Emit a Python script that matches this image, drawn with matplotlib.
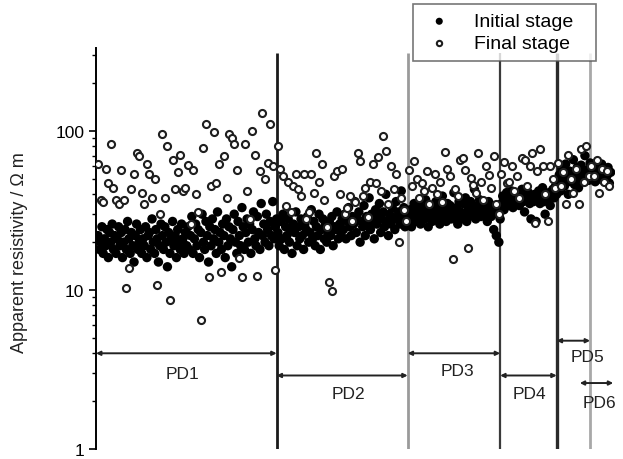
import matplotlib.pyplot as plt
import numpy as np

plt.rcParams['font.family'] = ['Liberation Sans', 'DejaVu Sans']

# apparent resistivity (ohm m); initial stage read twice per measurement point
initial_stage = [
    # PD1
    22, 18, 20, 25, 17, 21, 19, 24, 16, 23, 20, 26, 18, 22, 17, 21, 25, 19, 23, 16,
    20, 24, 18, 27, 21, 17, 23, 19, 15, 22, 26, 18, 20, 24, 17, 21, 19, 25, 16, 22,
    23, 18, 28, 20, 17, 24, 21, 15, 19, 26, 22, 18, 25, 20, 14, 23, 17, 21, 27, 19,
    22, 16, 24, 20, 18, 26, 21, 17, 23, 19,
    25, 18, 22, 29, 17, 21, 26, 19, 24, 16, 23, 30, 20, 18, 27, 22, 15, 25, 19, 28,
    21, 24, 17, 31, 20, 23, 18, 26, 22, 16, 28, 19, 25, 21, 14, 24, 30, 20, 17, 27,
    22, 19, 33, 25, 18, 23, 28, 20, 26, 17, 24, 31, 21, 19, 29, 23, 18, 35, 22, 26,
    20, 30, 24, 19, 27, 22, 36, 21, 25, 28,
    # PD2
    23, 19, 27, 21, 30, 18, 25, 22, 28, 20, 24, 17, 26, 23, 31, 19, 25, 21, 28, 22,
    18, 26, 24, 29, 20, 23, 32, 21, 27, 19, 25, 22, 30, 18, 24, 28, 21, 26, 20, 23,
    27, 22, 29, 19, 25, 24, 31, 21, 26, 23, 28,
    24, 30, 21, 27, 33, 25, 22, 29, 26, 36, 23, 28, 31, 20, 27, 25, 34, 22, 29, 26,
    38, 24, 30, 27, 21, 32, 26, 29, 35, 23, 28, 31, 25, 40, 27, 22, 30, 26, 33, 28,
    24, 36, 29, 31, 26, 42, 28, 33, 25, 30, 27,
    # PD3
    28, 32, 25, 30, 35, 27, 31, 29, 34, 26, 33, 30, 28, 37, 31, 25, 29, 34, 27, 32,
    30, 36, 28, 33, 26, 31, 39, 29, 32, 27, 35, 30, 34, 28, 31, 41, 29, 33, 26, 36,
    31, 28, 35, 30, 38, 27, 33, 29, 36, 32, 30, 43, 28, 34, 31, 37, 29, 33, 30, 35,
    32, 27, 36, 31, 29, 34, 24, 33, 22, 30, 20, 28,
    # PD4
    35, 39, 32, 37, 41, 34, 38, 36, 42, 33, 39, 35, 37, 40, 34, 38, 43, 36, 31, 39,
    37, 41, 35, 28, 38, 36, 40, 27, 39, 42, 35, 38, 44, 36, 30, 40, 37, 41, 34, 39,
    43, 38, 45, 40,
    # PD5
    47, 53, 42, 58, 49, 45, 62, 51, 40, 56, 48, 54, 66, 46, 52, 59, 44, 50, 61, 55,
    48, 70, 53, 57, 49, 63,
    # PD6
    55, 51, 58, 48, 54, 60, 50, 56, 62, 49, 53, 57, 52, 59, 47, 55,
]

final_stage = [
    # PD1
    62, 37, 36, 58, 47, 83, 44, 37, 35, 57, 37, 10.3, 13.7,
    43, 54, 73, 70, 41, 35, 62, 54, 38, 50, 10.8, 30,
    96, 38, 80, 8.7, 66, 43, 55, 71, 42, 44, 61, 26,
    57, 40, 31, 6.5, 78, 111, 12, 45, 98, 47, 62,
    13, 70, 38, 96, 90, 83, 57, 16, 12, 83, 42, 28,
    100, 71, 12.2, 56, 130, 50, 63, 111, 60, 13.4,
    # PD2
    80, 58, 52, 34, 48, 31, 45, 54, 43,
    39, 54, 28, 31, 54, 41, 73, 48, 62,
    37, 25, 11.3, 9.8, 52, 56, 40, 58, 30,
    33, 39, 27, 36, 73, 65, 39, 44, 29,
    48, 62, 47, 69, 42, 93, 75, 35, 60,
    43, 54, 20, 38, 32, 27,
    # PD3
    57, 45, 65, 50, 38, 47, 42, 56, 35, 44,
    54, 40, 48, 36, 74, 58, 52, 15.6, 43, 39,
    66, 68, 57, 18.4, 51, 46, 41, 73, 48, 37,
    60, 53, 44, 70, 35, 30,
    # PD4
    54, 64, 47, 48, 60, 42, 52, 38, 68, 66, 45,
    60, 73, 26.5, 56, 77, 60, 40, 27, 60, 50, 44,
    # PD5
    63, 45, 55, 35, 71, 50, 41, 58, 35, 77, 48, 80, 52,
    # PD6
    60, 52, 66, 41, 58, 48, 56, 45,
]

zones = ['PD1', 'PD2', 'PD3', 'PD4', 'PD5', 'PD6']
zone_edges = [69.5, 120.5, 156.5, 178.5, 191.5]
edge_colors = ['#1a1a1a', '#9a9a9a', '#3a3a3a', '#2a2a2a', '#a8a8a8']
edge_widths = [2.0, 2.0, 1.6, 2.4, 2.0]

n_points = len(final_stage)
x_initial = np.arange(len(initial_stage)) * n_points / len(initial_stage)
x_final = np.arange(n_points)

fig = plt.figure(figsize=(6.23, 4.6), dpi=100)
ax = fig.add_axes([96 / 623, 1 - 450 / 460, 519 / 623, 401 / 460])

ax.scatter(x_initial, initial_stage, s=46, color='black',
           edgecolors='none', zorder=3, label='Initial stage')
ax.scatter(x_final, final_stage, s=26, facecolors='white',
           edgecolors='#1e1e1e', linewidths=1.5, zorder=4, label='Final stage')

for xe, c, w in zip(zone_edges, edge_colors, edge_widths):
    ax.plot([xe, xe], [1, 310], color=c, linewidth=w, zorder=2,
            solid_capstyle='butt')

# zone arrows and labels
arrow_spans = [(-0.8, 69.5, 4.0), (69.5, 120.5, 2.9), (120.5, 156.5, 4.0),
               (156.5, 178.5, 2.9), (178.5, 191.5, 4.8), (187.5, 200.5, 2.6)]
label_pos = [(33, 3.0), (97.3, 2.25), (139.7, 3.14), (168, 2.25),
             (190.5, 3.84), (195.0, 1.95)]
for (x0, x1, yv), (lx, ly), name in zip(arrow_spans, label_pos, zones):
    ax.annotate('', xy=(x1, yv), xytext=(x0, yv),
                arrowprops=dict(arrowstyle='<|-|>', color='#222222', lw=1.4,
                                mutation_scale=6, shrinkA=0, shrinkB=0),
                zorder=5)
    ax.text(lx, ly, name, ha='center', va='center', fontsize=12.5, color='#222222')

ax.set_yscale('log')
ax.set_ylim(1, 333)
ax.set_xlim(-0.8, 201.2)
ax.set_yticks([1, 10, 100])
ax.set_yticklabels(['1', '10', '100'], fontsize=12.5)
ax.tick_params(axis='y', which='major', direction='out', length=5, width=1.2)
ax.tick_params(axis='y', which='minor', direction='out', length=3, width=1)
ax.set_xticks([])
for side in ['top', 'right', 'bottom']:
    ax.spines[side].set_visible(False)
ax.spines['left'].set_linewidth(1.4)

fig.text(20 / 623, 1 - 253 / 460, 'Apparent resistivity / \u03a9 m', rotation=90,
         ha='center', va='center', fontsize=13, color='#222222')

leg = fig.legend(loc='upper left',
                 bbox_to_anchor=(413 / 623, 1 - 65 / 460, 183 / 623, 60 / 460),
                 mode='expand', frameon=True, fancybox=False, fontsize=14,
                 markerscale=0.75, handletextpad=0.9, borderpad=0.45,
                 labelspacing=0.2, handlelength=1.8, borderaxespad=0)
leg.get_frame().set_edgecolor('#555555')
leg.get_frame().set_linewidth(1.2)
leg.set_zorder(10)

plt.savefig('out.png', dpi=100, facecolor='white')
plt.close()
